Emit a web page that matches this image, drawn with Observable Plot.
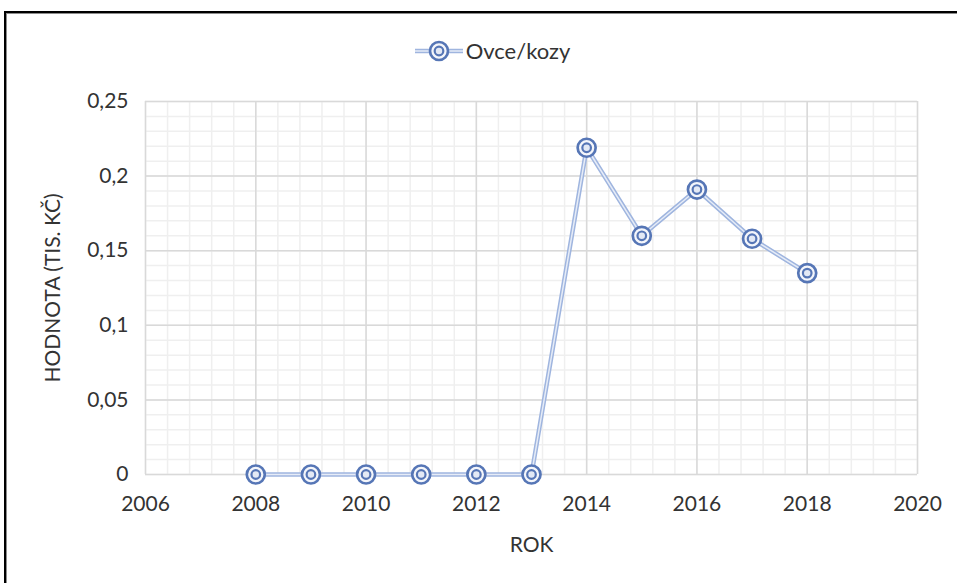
<!DOCTYPE html>
<html>
<head>
<meta charset="utf-8">
<script src="https://cdn.jsdelivr.net/npm/d3@7"></script>
<script src="https://cdn.jsdelivr.net/npm/@observablehq/plot@0.6"></script>
<style>
  html, body { margin: 0; padding: 0; background: #fff; overflow: hidden; }
  body { width: 957px; height: 583px; position: relative; font-family: Lato, "Open Sans", sans-serif; }
  #frame { position: absolute; left: 4px; top: 11px; width: 960px; height: 600px; border: 2px solid #000; box-shadow: inset 0 0 0 1px #8c8c8c; box-sizing: border-box; }
  #chart { position: absolute; left: 0; top: 0; }
  #legend { position: absolute; top: 37px; left: 14px; width: 957px; display: flex; justify-content: center; align-items: center; font-size: 22px; color: #333; }
  #legend span { margin-left: 3px; }
</style>
</head>
<body>
<div id="frame"></div>
<div id="chart"></div>
<div id="legend"></div>
<script>
const seriesName = "Ovce/kozy";
const years = [2008, 2009, 2010, 2011, 2012, 2013, 2014, 2015, 2016, 2017, 2018];
const values = [0, 0, 0, 0, 0, 0, 0.219, 0.160, 0.191, 0.158, 0.135];
const xTicks = [2006, 2008, 2010, 2012, 2014, 2016, 2018, 2020];
const yTicks = [0, 0.05, 0.1, 0.15, 0.2, 0.25];
const xLabel = "ROK";
const yLabel = "HODNOTA (TIS. KČ)";

const data = years.map((y, i) => ({year: y, value: values[i]}));
const xMinor = d3.range(0, 36).map(i => 2006 + i * 0.4).filter(v => v <= 2020.001);
const yMinor = d3.range(0, 26).map(i => i * 0.01);

const lineColor = "#9fb5df";
const markColor = "#5676b6";

const plot = Plot.plot({
  width: 957,
  height: 583,
  marginLeft: 145,
  marginRight: 40,
  marginTop: 101,
  marginBottom: 109,
  style: {fontFamily: "Lato, 'Open Sans', sans-serif", fontSize: "21px", color: "#333", background: "transparent"},
  x: {domain: [2006, 2020]},
  y: {domain: [0, 0.25]},
  marks: [
    Plot.ruleX(xMinor, {stroke: "#efefef", strokeWidth: 1.5}),
    Plot.ruleY(yMinor, {stroke: "#efefef", strokeWidth: 1.5}),
    Plot.ruleX(xTicks, {stroke: "#d9d9d9", strokeWidth: 1.5}),
    Plot.ruleY(yTicks, {stroke: "#d9d9d9", strokeWidth: 1.5}),
    Plot.axisX({ticks: xTicks, tickSize: 0, tickPadding: 22, tickFormat: d => String(d), fontSize: 21,
      label: xLabel, labelAnchor: "center", labelArrow: "none", labelOffset: 77}),
    Plot.axisY({ticks: yTicks, tickSize: 0, tickPadding: 17, tickFormat: d => String(d).replace(".", ","), fontSize: 21,
      label: yLabel, labelAnchor: "center", labelArrow: "none", labelOffset: 100}),
    Plot.line(data, {x: "year", y: "value", stroke: lineColor, strokeWidth: 4.5}),
    Plot.line(data, {x: "year", y: "value", stroke: "#e6ecf7", strokeWidth: 1.5}),
    Plot.dot(data, {x: "year", y: "value", r: 9, stroke: markColor, strokeWidth: 2.7, fill: "#f4f6fb"}),
    Plot.dot(data, {x: "year", y: "value", r: 4.3, stroke: markColor, strokeWidth: 2.2, fill: "#e3e9f5"})
  ]
});
document.getElementById("chart").appendChild(plot);

document.getElementById("legend").innerHTML =
  `<svg width="48" height="24" viewBox="0 0 48 24">
     <line x1="0" y1="12" x2="48" y2="12" stroke="${lineColor}" stroke-width="4.5"/>
     <line x1="0" y1="12" x2="48" y2="12" stroke="#e6ecf7" stroke-width="1.5"/>
     <circle cx="24" cy="12" r="9" stroke="${markColor}" stroke-width="2.7" fill="#f4f6fb"/>
     <circle cx="24" cy="12" r="4.3" stroke="${markColor}" stroke-width="2.2" fill="#e3e9f5"/>
   </svg><span>${seriesName}</span>`;
</script>
</body>
</html>
